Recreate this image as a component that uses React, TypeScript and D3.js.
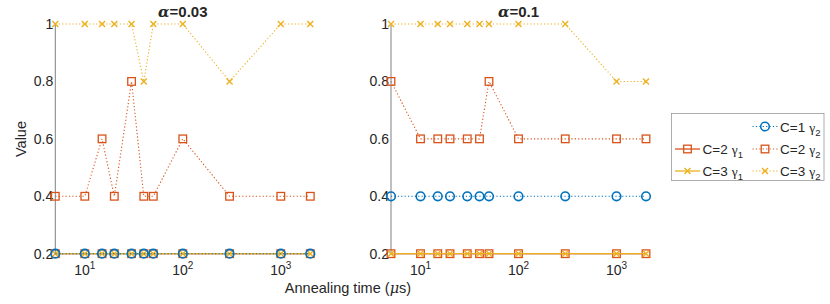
import * as d3 from 'd3'

// annealing times (µs)
const times = [5, 10, 15, 20, 30, 40, 50, 100, 300, 1000, 2000]
const yTicks = [0.2, 0.4, 0.6, 0.8, 1]
const xTicks = [10, 100, 1000]
const xTickExp = ['1', '2', '3']

// alpha = 0.03
const a003_c2g1 = [0.2, 0.2, 0.2, 0.2, 0.2, 0.2, 0.2, 0.2, 0.2, 0.2, 0.2]
const a003_c3g1 = [0.2, 0.2, 0.2, 0.2, 0.2, 0.2, 0.2, 0.2, 0.2, 0.2, 0.2]
const a003_c1g2 = [0.2, 0.2, 0.2, 0.2, 0.2, 0.2, 0.2, 0.2, 0.2, 0.2, 0.2]
const a003_c2g2 = [0.4, 0.4, 0.6, 0.4, 0.8, 0.4, 0.4, 0.6, 0.4, 0.4, 0.4]
const a003_c3g2 = [1, 1, 1, 1, 1, 0.8, 1, 1, 0.8, 1, 1]

// alpha = 0.1
const a01_c2g1 = [0.2, 0.2, 0.2, 0.2, 0.2, 0.2, 0.2, 0.2, 0.2, 0.2, 0.2]
const a01_c3g1 = [0.2, 0.2, 0.2, 0.2, 0.2, 0.2, 0.2, 0.2, 0.2, 0.2, 0.2]
const a01_c1g2 = [0.4, 0.4, 0.4, 0.4, 0.4, 0.4, 0.4, 0.4, 0.4, 0.4, 0.4]
const a01_c2g2 = [0.8, 0.6, 0.6, 0.6, 0.6, 0.6, 0.8, 0.6, 0.6, 0.6, 0.6]
const a01_c3g2 = [1, 1, 1, 1, 1, 1, 1, 1, 1, 0.8, 0.8]

const BLUE = '#0072BD'
const ORANGE = '#D95319'
const YELLOW = '#EDB120'
const TEXT = '#262626'
const AXIS = '#808080'
const FONT = 'Liberation Sans, Arial, Helvetica, sans-serif'
const FS = 14

type Marker = 'o' | 's' | 'x'
interface Series {
  c: string
  g: string
  color: string
  dotted: boolean
  marker: Marker
  values: number[]
}

const styles = {
  c2g1: { c: '2', g: '1', color: ORANGE, dotted: false, marker: 's' as Marker },
  c3g1: { c: '3', g: '1', color: YELLOW, dotted: false, marker: 'x' as Marker },
  c1g2: { c: '1', g: '2', color: BLUE, dotted: true, marker: 'o' as Marker },
  c2g2: { c: '2', g: '2', color: ORANGE, dotted: true, marker: 's' as Marker },
  c3g2: { c: '3', g: '2', color: YELLOW, dotted: true, marker: 'x' as Marker },
}

const panels = [
  {
    title: '0.03',
    left: 55.3,
    series: [
      { ...styles.c2g1, values: a003_c2g1 },
      { ...styles.c3g1, values: a003_c3g1 },
      { ...styles.c1g2, values: a003_c1g2 },
      { ...styles.c2g2, values: a003_c2g2 },
      { ...styles.c3g2, values: a003_c3g2 },
    ] as Series[],
  },
  {
    title: '0.1',
    left: 391,
    series: [
      { ...styles.c2g1, values: a01_c2g1 },
      { ...styles.c3g1, values: a01_c3g1 },
      { ...styles.c1g2, values: a01_c1g2 },
      { ...styles.c2g2, values: a01_c2g2 },
      { ...styles.c3g2, values: a01_c3g2 },
    ] as Series[],
  },
]

const PANEL_W = 255
const TOP = 24
const BOTTOM = 253.7

function MarkerShape({ m, x, y, color }: { m: Marker; x: number; y: number; color: string }) {
  if (m === 'o')
    return <circle cx={x} cy={y} r={4.3} fill="none" stroke={color} strokeWidth={1.6} />
  if (m === 's')
    return <rect x={x - 3.8} y={y - 3.8} width={7.6} height={7.6} fill="none" stroke={color} strokeWidth={1.3} />
  const d = 3
  return (
    <path
      d={`M${x - d},${y - d}L${x + d},${y + d}M${x - d},${y + d}L${x + d},${y - d}`}
      stroke={color}
      strokeWidth={1.4}
      fill="none"
    />
  )
}

function Panel({ p }: { p: (typeof panels)[number] }) {
  const x = d3.scaleLog().domain([5, 2000]).range([p.left, p.left + PANEL_W])
  const y = d3.scaleLinear().domain([0.2, 1]).range([BOTTOM, TOP])
  const line = d3
    .line<number>()
    .x((_, i) => x(times[i]))
    .y((v) => y(v))
  const cx = (p.left + p.left + PANEL_W) / 2
  return (
    <g>
      <line x1={p.left} x2={p.left + PANEL_W} y1={BOTTOM} y2={BOTTOM} stroke={AXIS} strokeWidth={1} />
      <line x1={p.left} x2={p.left} y1={TOP} y2={BOTTOM} stroke={AXIS} strokeWidth={1} />
      {yTicks.map((t) => (
        <text key={t} x={p.left - 2} y={y(t) + 5} textAnchor="end" fontSize={FS} fill={TEXT}>
          {t === 1 ? '1' : t.toFixed(1)}
        </text>
      ))}
      {xTicks.map((t, i) => (
        <text key={t} x={x(t)} y={274.5} textAnchor="middle" fontSize={FS} fill={TEXT}>
          10
          <tspan fontSize={10} dy={-6}>
            {xTickExp[i]}
          </tspan>
        </text>
      ))}
      {p.series.map((s, si) => (
        <g key={si}>
          <path
            d={line(s.values) ?? ''}
            fill="none"
            stroke={s.color}
            strokeWidth={s.dotted ? 1.1 : 1.3}
            strokeDasharray={s.dotted ? '1.2 2.2' : undefined}
          />
          {s.values.map((v, i) => (
            <MarkerShape key={i} m={s.marker} x={x(times[i])} y={y(v)} color={s.color} />
          ))}
        </g>
      ))}
      <text x={cx} y={17} textAnchor="middle" fontSize={15} fontWeight="bold" fill={TEXT}>
        <tspan fontStyle="italic" fontFamily="DejaVu Serif, serif">α</tspan>={p.title}
      </text>
    </g>
  )
}

function LegendItem({ s, x, y }: { s: Series; x: number; y: number }) {
  return (
    <g>
      <line
        x1={x}
        x2={x + 25}
        y1={y}
        y2={y}
        stroke={s.color}
        strokeWidth={s.dotted ? 1.1 : 1.3}
        strokeDasharray={s.dotted ? '1.2 2.2' : undefined}
      />
      <MarkerShape m={s.marker} x={x + 12.5} y={y} color={s.color} />
      <text x={x + 27.5} y={y + 5} fontSize={13.5} fill={TEXT}>
        C={s.c}
        <tspan dx={4} fontFamily="Liberation Serif, serif">γ</tspan>
        <tspan fontSize={9.5} dy={4}>
          {s.g}
        </tspan>
      </text>
    </g>
  )
}

export default function App() {
  const leg = panels[0].series
  return (
    <svg
      width={830}
      height={304}
      style={{ position: 'absolute', left: 0, top: 0, background: '#fff', fontFamily: FONT }}
    >
      {panels.map((p, i) => (
        <Panel key={i} p={p} />
      ))}
      <text x={22} y={139} transform="rotate(-90 22 139)" textAnchor="middle" dy={4} fontSize={14.5} fill={TEXT}>
        Value
      </text>
      <text x={348} y={293} textAnchor="middle" fontSize={14.5} fill={TEXT}>
        Annealing time (<tspan fontStyle="italic" fontFamily="DejaVu Serif, serif">μ</tspan>s)
      </text>
      <rect x={671.5} y={113.5} width={152.5} height={67} fill="#fff" stroke="#999" strokeWidth={0.8} />
      <LegendItem s={leg[2]} x={752.5} y={126.5} />
      <LegendItem s={leg[0]} x={675} y={149} />
      <LegendItem s={leg[3]} x={752.5} y={149} />
      <LegendItem s={leg[1]} x={675} y={171} />
      <LegendItem s={leg[4]} x={752.5} y={171} />
    </svg>
  )
}
